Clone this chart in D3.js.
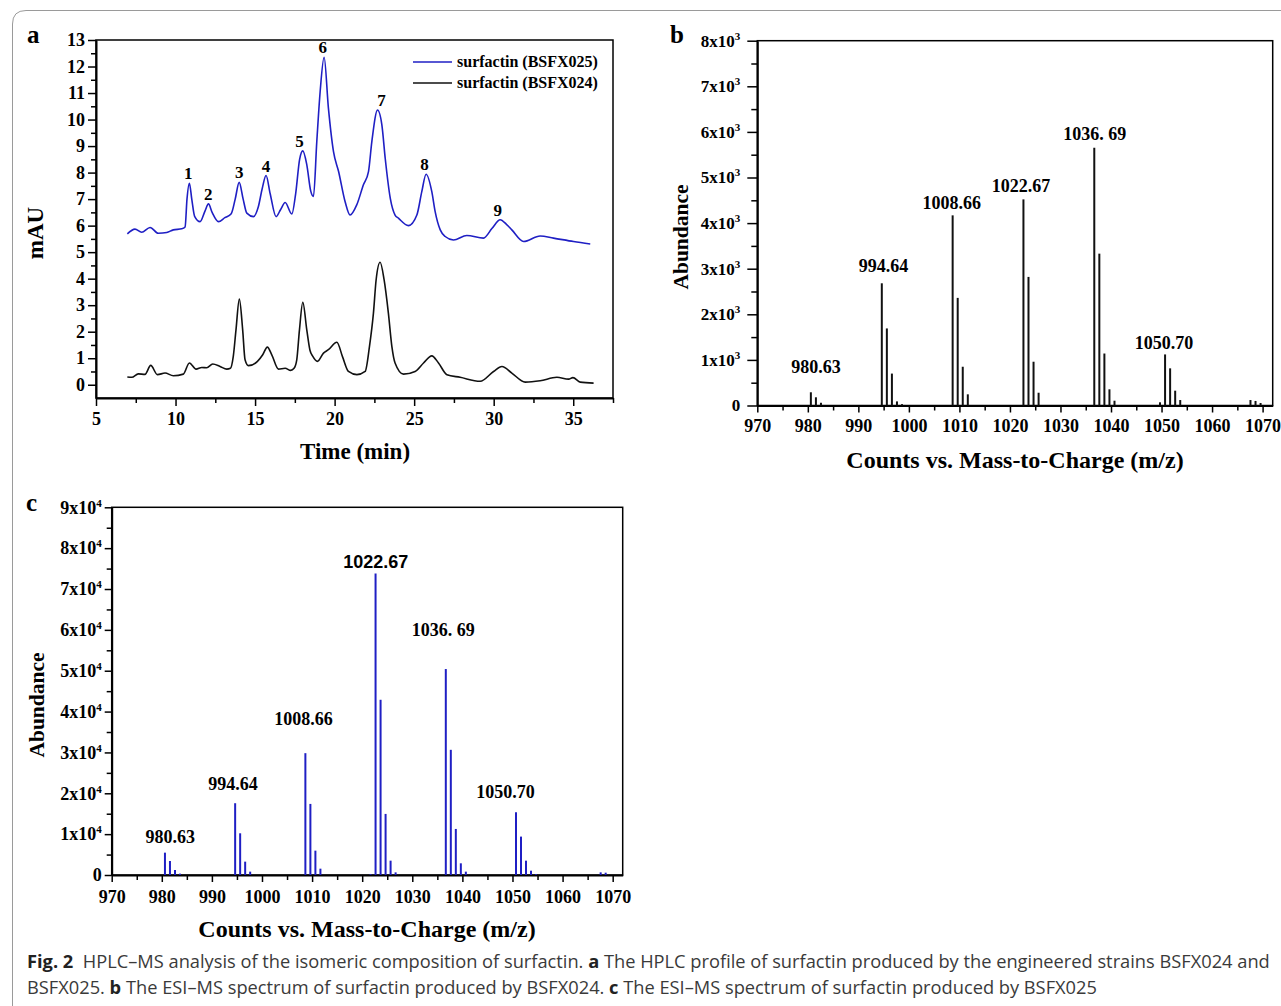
<!DOCTYPE html>
<html><head><meta charset="utf-8">
<script src="https://cdn.jsdelivr.net/npm/d3@7"></script>
<style>
body{margin:0;background:#fff;}
svg{display:block;}
</style></head><body>
<svg id="fig" width="1281" height="1006"></svg>
<script>
// ---------- DATA ----------
// Panel a: HPLC chromatograms (time in min, signal in mAU)
const timeBlue = [6.97,7.45,7.87,8.4,8.92,9.45,9.86,10.39,10.6,10.72,10.87,11.02,11.2,11.54,11.85,12.07,12.3,12.7,13.1,13.5,13.75,14.0,14.25,14.48,14.9,15.2,15.45,15.69,15.95,16.32,16.6,16.89,17.31,17.55,17.8,18.0,18.25,18.5,18.67,18.88,19.09,19.34,19.61,19.93,20.25,20.66,20.97,21.39,21.81,22.13,22.34,22.7,22.97,23.18,23.5,23.8,24.01,24.64,25.17,25.48,25.75,26.11,26.32,26.64,26.95,27.47,28.31,29.36,29.9,30.41,30.8,31.14,31.88,32.92,33.76,35.02,36.07];
const signalBlue = [5.69,5.87,5.75,5.93,5.71,5.74,5.84,5.88,5.95,7.0,7.6,7.0,6.35,6.15,6.55,6.82,6.5,6.15,6.3,6.45,7.0,7.63,7.0,6.47,6.34,6.7,7.4,7.89,7.2,6.34,6.6,6.87,6.44,7.2,8.5,8.82,8.3,7.3,7.1,9.17,11.05,12.35,10.43,8.79,8.04,6.9,6.4,6.78,7.54,8.04,9.17,10.36,9.8,8.54,7.03,6.4,6.28,6.0,6.4,7.28,7.94,7.28,6.53,5.84,5.59,5.46,5.63,5.53,5.9,6.22,6.05,5.84,5.4,5.61,5.53,5.4,5.31];
const timeBlack = [6.97,7.25,7.66,8.08,8.44,8.86,9.34,9.86,10.49,10.87,11.29,11.65,11.96,12.34,12.8,13.22,13.45,13.63,13.8,14.01,14.22,14.37,14.58,15.15,15.48,15.77,16.05,16.47,16.89,17.24,17.45,17.62,17.79,18.0,18.25,18.45,18.63,18.92,19.3,19.61,20.14,20.5,20.87,21.4,21.92,22.19,22.44,22.61,22.86,23.11,23.38,23.6,23.8,24.33,25.06,25.59,26.11,26.53,27.06,27.89,29.15,29.99,30.52,31.14,31.98,32.92,33.97,34.71,34.98,35.44,36.28];
const signalBlack = [0.29,0.28,0.41,0.39,0.73,0.38,0.44,0.34,0.4,0.82,0.59,0.65,0.64,0.78,0.69,0.59,0.62,1.07,2.07,3.23,2.07,0.94,0.72,0.88,1.13,1.42,1.13,0.59,0.62,0.54,0.62,0.94,2.07,3.11,2.07,1.3,1.07,0.88,1.19,1.32,1.6,1.05,0.5,0.38,0.5,1.44,2.7,3.96,4.62,3.96,2.7,1.44,0.82,0.4,0.5,0.82,1.09,0.82,0.38,0.28,0.13,0.5,0.69,0.44,0.1,0.15,0.28,0.21,0.27,0.1,0.06];
const seriesNames = ["surfactin (BSFX025)", "surfactin (BSFX024)"];
const peakNumbers = ["1","2","3","4","5","6","7","8","9"];
const peakTimes = [10.8,12.05,14.0,15.69,17.8,19.25,22.95,25.65,30.25];
const peakValues = [7.6,6.82,7.63,7.89,8.82,12.35,10.36,7.94,6.22];
const aYTicks = [0,1,2,3,4,5,6,7,8,9,10,11,12,13];
const aXTicks = [5,10,15,20,25,30,35];

// Panel b: ESI-MS spectrum, BSFX024
const mzB = [980.6,981.6,982.6,994.64,995.64,996.64,997.64,998.64,1008.66,1009.66,1010.66,1011.66,1022.67,1023.67,1024.67,1025.67,1036.69,1037.69,1038.69,1039.69,1040.69,1049.7,1050.7,1051.7,1052.7,1053.7,1067.6,1068.6,1069.6];
const abundanceB = [290,180,60,2680,1690,700,90,30,4170,2360,850,245,4520,2820,960,280,5650,3330,1140,355,105,70,1120,815,325,120,120,100,55];
const labelsB = ["980.63","994.64","1008.66","1022.67","1036. 69","1050.70"];
const labelMzB = [981.6,995.0,1008.5,1022.2,1036.8,1050.5];
const labelAbB = [710,2920,4300,4690,5830,1250];
const bYTicks = [0,1000,2000,3000,4000,5000,6000,7000,8000];
const bXTicks = [970,980,990,1000,1010,1020,1030,1040,1050,1060,1070];

// Panel c: ESI-MS spectrum, BSFX025
const mzC = [980.63,981.63,982.63,983.63,994.64,995.64,996.64,997.64,1008.66,1009.66,1010.66,1011.66,1021.67,1022.67,1023.67,1024.67,1025.67,1026.67,1036.69,1037.69,1038.69,1039.69,1040.69,1050.7,1051.7,1052.7,1053.7,1054.7,1067.6,1068.6];
const abundanceC = [5470,3430,1230,330,17570,10210,3270,820,29820,17400,5960,1550,200,73770,42890,14950,3510,650,50410,30640,11270,2860,820,15360,9400,3510,1060,200,650,570];
const labelsC = ["980.63","994.64","1008.66","1022.67","1036. 69","1050.70"];
const labelMzC = [981.7,994.2,1008.3,1022.7,1036.2,1048.6];
const labelAbC = [7840,20830,36760,75250,58580,18870];
const cYTicks = [0,10000,20000,30000,40000,50000,60000,70000,80000,90000];
const cXTicks = [970,980,990,1000,1010,1020,1030,1040,1050,1060,1070];

// ---------- DRAWING ----------
const svg = d3.select('#fig');
const SERIF = "'Liberation Serif','Times New Roman',serif";
const SANS = "'Liberation Sans',Arial,sans-serif";
const BLUE = "#1f1fc4";
const intFmt = d3.format('d');

// outer figure border
svg.append('path')
  .attr('d', 'M1281,10.5 H26 Q12.5,10.5 12.5,24 V1006')
  .attr('fill','none').attr('stroke','#9a9a9a').attr('stroke-width',1);

function styleAxis(g, sw) {
  g.select('.domain').attr('stroke','#000').attr('stroke-width',sw);
  g.selectAll('.tick line').attr('stroke','#000').attr('stroke-width',1.5);
  g.selectAll('.tick text').attr('font-family',SERIF).attr('font-weight','bold').attr('fill','#000');
}

function supLabel(sel, exp) {
  sel.each(function(d){
    const t = d3.select(this);
    t.text(null);
    if (d === 0) { t.text('0'); return; }
    const m = Math.round(d / Math.pow(10,exp));
    t.append('tspan').text(m + 'x10');
    t.append('tspan').text(String(exp)).attr('font-size','11px').attr('dy','-7');
  });
}

// ===== Panel a =====
const xA = d3.scaleLinear().domain([5,37.5]).range([96,613]);
const yA = d3.scaleLinear().domain([-0.5,13]).range([398,40]);

svg.append('rect').attr('x',96).attr('y',40).attr('width',613-96).attr('height',398-40)
  .attr('fill','none').attr('stroke','#000').attr('stroke-width',1.5);

const aL = svg.append('g').attr('transform','translate(96,0)')
  .call(d3.axisLeft(yA).tickValues(aYTicks).tickSize(8).tickPadding(3).tickSizeOuter(0));
styleAxis(aL, 2); aL.selectAll('.tick text').attr('font-size','18px');
const aLm = svg.append('g').attr('transform','translate(96,0)')
  .call(d3.axisLeft(yA).tickValues(d3.range(0.5,13,1)).tickSize(5).tickFormat(''));
aLm.select('.domain').remove(); aLm.selectAll('line').attr('stroke','#000').attr('stroke-width',1.5);

const aB = svg.append('g').attr('transform','translate(0,398)')
  .call(d3.axisBottom(xA).tickValues(aXTicks).tickSize(8).tickPadding(6).tickSizeOuter(0));
styleAxis(aB, 2); aB.selectAll('.tick text').attr('font-size','18px');
const aBm = svg.append('g').attr('transform','translate(0,398)')
  .call(d3.axisBottom(xA).tickValues(d3.range(7.5,38,5)).tickSize(5).tickFormat(''));
aBm.select('.domain').remove(); aBm.selectAll('line').attr('stroke','#000').attr('stroke-width',1.5);

const lineA = d3.line().x(d=>xA(d[0])).y(d=>yA(d[1])).curve(d3.curveMonotoneX);
svg.append('path').datum(d3.zip(timeBlack, signalBlack)).attr('d', lineA)
  .attr('fill','none').attr('stroke','#111').attr('stroke-width',1.6);
svg.append('path').datum(d3.zip(timeBlue, signalBlue)).attr('d', lineA)
  .attr('fill','none').attr('stroke',BLUE).attr('stroke-width',1.6);

svg.append('g').selectAll('text').data(peakNumbers).join('text')
  .attr('x',(d,i)=>xA(peakTimes[i])).attr('y',(d,i)=>yA(peakValues[i]) - 4)
  .attr('text-anchor','middle').attr('font-family',SERIF).attr('font-weight','bold')
  .attr('font-size','17px').text(d=>d);

// legend
const legColors = [BLUE, '#111'];
const leg = svg.append('g');
seriesNames.forEach((n,i)=>{
  leg.append('line').attr('x1',413).attr('x2',452).attr('y1',62+21*i).attr('y2',62+21*i)
    .attr('stroke',legColors[i]).attr('stroke-width',1.6);
  leg.append('text').attr('x',457).attr('y',67+21*i).attr('font-family',SERIF)
    .attr('font-weight','bold').attr('font-size','16px').text(n);
});

svg.append('text').attr('x',355).attr('y',459).attr('text-anchor','middle')
  .attr('font-family',SERIF).attr('font-weight','bold').attr('font-size','23px').text('Time (min)');
svg.append('text').attr('transform','translate(43,233) rotate(-90)').attr('text-anchor','middle')
  .attr('font-family',SERIF).attr('font-weight','bold').attr('font-size','23px').text('mAU');
svg.append('text').attr('x',27).attr('y',43).attr('font-family',SERIF).attr('font-weight','bold')
  .attr('font-size','25px').text('a');

// ===== Panel b =====
const xB = d3.scaleLinear().domain([970,1072]).range([757.3,1272.7]);
const yB = d3.scaleLinear().domain([0,8000]).range([405.5,40.7]);

svg.append('rect').attr('x',757.3).attr('y',40.7).attr('width',1272.7-757.3).attr('height',405.5-40.7)
  .attr('fill','none').attr('stroke','#000').attr('stroke-width',1.5);
const bL = svg.append('g').attr('transform','translate(757.3,0)')
  .call(d3.axisLeft(yB).tickValues(bYTicks).tickSize(10).tickPadding(7).tickSizeOuter(0));
styleAxis(bL, 2); bL.selectAll('.tick text').attr('font-size','17px').call(supLabel, 3);
const bLm = svg.append('g').attr('transform','translate(757.3,0)')
  .call(d3.axisLeft(yB).tickValues(d3.range(500,8000,1000)).tickSize(6).tickFormat(''));
bLm.select('.domain').remove(); bLm.selectAll('line').attr('stroke','#000').attr('stroke-width',1.5);
const bB = svg.append('g').attr('transform','translate(0,405.5)')
  .call(d3.axisBottom(xB).tickValues(bXTicks).tickFormat(intFmt).tickSize(7).tickPadding(7).tickSizeOuter(0));
styleAxis(bB, 2); bB.selectAll('.tick text').attr('font-size','18px');
const bBm = svg.append('g').attr('transform','translate(0,405.5)')
  .call(d3.axisBottom(xB).tickValues(d3.range(975,1072,10)).tickSize(5).tickFormat(''));
bBm.select('.domain').remove(); bBm.selectAll('line').attr('stroke','#000').attr('stroke-width',1.5);

svg.append('g').selectAll('line').data(d3.zip(mzB, abundanceB)).join('line')
  .attr('x1',d=>xB(d[0])).attr('x2',d=>xB(d[0])).attr('y1',yB(0)).attr('y2',d=>yB(d[1]))
  .attr('stroke','#111').attr('stroke-width',2);
svg.append('g').selectAll('text').data(labelsB).join('text')
  .attr('x',(d,i)=>xB(labelMzB[i])).attr('y',(d,i)=>yB(labelAbB[i]))
  .attr('text-anchor','middle').attr('font-family',SERIF).attr('font-weight','bold')
  .attr('font-size','18px').text(d=>d);

svg.append('text').attr('x',1015).attr('y',468).attr('text-anchor','middle')
  .attr('font-family',SERIF).attr('font-weight','bold').attr('font-size','24px')
  .text('Counts vs. Mass-to-Charge (m/z)');
svg.append('text').attr('transform','translate(688,237) rotate(-90)').attr('text-anchor','middle')
  .attr('font-family',SERIF).attr('font-weight','bold').attr('font-size','21.5px').text('Abundance');
svg.append('text').attr('x',670).attr('y',43).attr('font-family',SERIF).attr('font-weight','bold')
  .attr('font-size','25px').text('b');

// ===== Panel c =====
const xC = d3.scaleLinear().domain([970,1072]).range([111.7,622.7]);
const yC = d3.scaleLinear().domain([0,90000]).range([875,507.3]);

svg.append('rect').attr('x',111.7).attr('y',507.3).attr('width',622.7-111.7).attr('height',875-507.3)
  .attr('fill','none').attr('stroke','#000').attr('stroke-width',1.5);
const cL = svg.append('g').attr('transform','translate(111.7,0)')
  .call(d3.axisLeft(yC).tickValues(cYTicks).tickSize(7).tickPadding(3).tickSizeOuter(0));
styleAxis(cL, 2); cL.selectAll('.tick text').attr('font-size','18px').call(supLabel, 4);
const cLm = svg.append('g').attr('transform','translate(111.7,0)')
  .call(d3.axisLeft(yC).tickValues(d3.range(5000,90000,10000)).tickSize(5).tickFormat(''));
cLm.select('.domain').remove(); cLm.selectAll('line').attr('stroke','#000').attr('stroke-width',1.5);
const cB = svg.append('g').attr('transform','translate(0,875)')
  .call(d3.axisBottom(xC).tickValues(cXTicks).tickFormat(intFmt).tickSize(7).tickPadding(8).tickSizeOuter(0));
styleAxis(cB, 2); cB.selectAll('.tick text').attr('font-size','18px');
const cBm = svg.append('g').attr('transform','translate(0,875)')
  .call(d3.axisBottom(xC).tickValues(d3.range(975,1072,10)).tickSize(5).tickFormat(''));
cBm.select('.domain').remove(); cBm.selectAll('line').attr('stroke','#000').attr('stroke-width',1.5);

svg.append('g').selectAll('line').data(d3.zip(mzC, abundanceC)).join('line')
  .attr('x1',d=>xC(d[0])).attr('x2',d=>xC(d[0])).attr('y1',yC(0)).attr('y2',d=>yC(d[1]))
  .attr('stroke',BLUE).attr('stroke-width',2);
svg.append('g').selectAll('text').data(labelsC).join('text')
  .attr('x',(d,i)=>xC(labelMzC[i])).attr('y',(d,i)=>yC(labelAbC[i]))
  .attr('text-anchor','middle').attr('font-family',(d,i)=> i===3 ? SANS : SERIF).attr('font-weight','bold')
  .attr('font-size','18px').text(d=>d);

svg.append('text').attr('x',367).attr('y',937).attr('text-anchor','middle')
  .attr('font-family',SERIF).attr('font-weight','bold').attr('font-size','24px')
  .text('Counts vs. Mass-to-Charge (m/z)');
svg.append('text').attr('transform','translate(44,705) rotate(-90)').attr('text-anchor','middle')
  .attr('font-family',SERIF).attr('font-weight','bold').attr('font-size','21.5px').text('Abundance');
svg.append('text').attr('x',26).attr('y',511).attr('font-family',SERIF).attr('font-weight','bold')
  .attr('font-size','25px').text('c');

// ===== Caption =====
const capLines = [
  [["Fig. 2",true],["  HPLC–MS analysis of the isomeric composition of surfactin. ",false],["a",true],[" The HPLC profile of surfactin produced by the engineered strains BSFX024 and",false]],
  [["BSFX025. ",false],["b",true],[" The ESI–MS spectrum of surfactin produced by BSFX024. ",false],["c",true],[" The ESI–MS spectrum of surfactin produced by BSFX025",false]]
];
const capY = [968, 994];
const capTexts = capLines.map((parts,li)=>{
  const t = svg.append('text').attr('x',27).attr('y',capY[li]).attr('font-family',"'Open Sans','Noto Sans',sans-serif")
    .attr('font-size','17px').attr('fill','#3a3a3a').attr('xml:space','preserve');
  parts.forEach(p=>{
    t.append('tspan').text(p[0]).attr('font-weight', p[1]?'bold':'normal').attr('fill', p[1]?'#222':'#3a3a3a');
  });
  return t;
});
const w1 = capTexts[0].node().getComputedTextLength();
const fs = 17 * (1243 / w1);
capTexts.forEach(t=>t.attr('font-size', fs + 'px'));
</script>
</body></html>
